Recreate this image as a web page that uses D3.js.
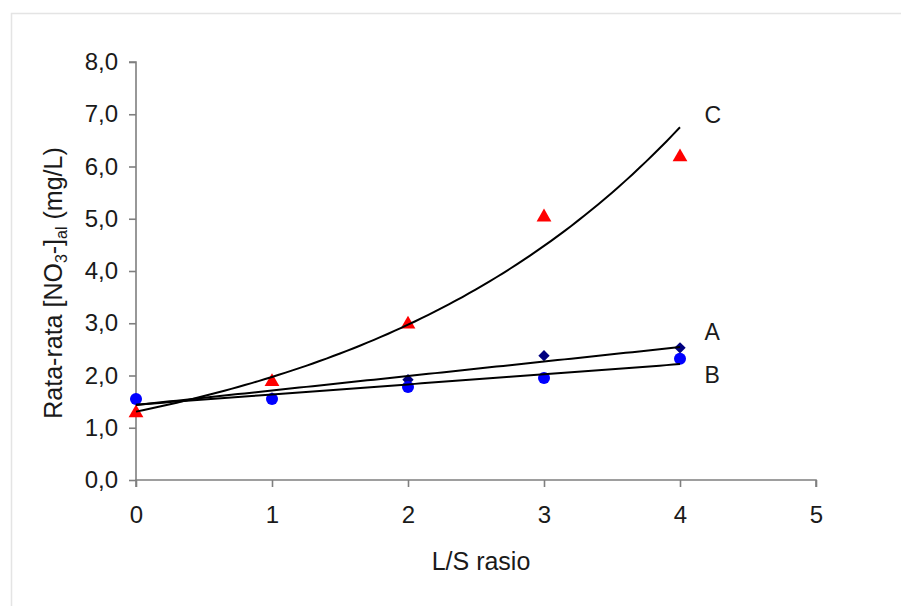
<!DOCTYPE html>
<html>
<head>
<meta charset="utf-8">
<script src="https://cdn.jsdelivr.net/npm/d3@7"></script>
<style>
  body { margin: 0; background: #fff; }
  text { font-family: "Liberation Sans", Arial, sans-serif; fill: #1a1a1a; }
</style>
</head>
<body>
<div id="chart"></div>
<script>
// data
const lsRatio = [0, 1, 2, 3, 4];
const seriesA = [1.55, 1.57, 1.92, 2.38, 2.53];
const seriesB = [1.55, 1.55, 1.78, 1.95, 2.32];
const seriesC = [1.30, 1.90, 3.00, 5.05, 6.20];
const xTicks = [0, 1, 2, 3, 4, 5];
const yTicks = [0, 1, 2, 3, 4, 5, 6, 7, 8];
// series label anchors (data units)
const labelNames = ['A', 'B', 'C'];
const labelX = [4.18, 4.18, 4.18];
const labelY = [2.83, 2.01, 6.99];

const width = 901;
const height = 606;

const svg = d3.select('#chart')
  .append('svg')
  .attr('width', width)
  .attr('height', height);

// light frame of the original figure
svg.append('rect')
  .attr('x', 11.5)
  .attr('y', 13.5)
  .attr('width', 1000)
  .attr('height', 1000)
  .attr('fill', 'none')
  .attr('stroke', '#e4e4e4')
  .attr('stroke-width', 1.5);

const xScale = d3.scaleLinear().domain([0, 5]).range([136, 816]);
const yScale = d3.scaleLinear().domain([0, 8]).range([480, 62]);

const locale = d3.formatLocale({ decimal: ',', thousands: '.', grouping: [3], currency: ['', ''] });
const fmt = locale.format('.1f');

const axisColor = '#7f7f7f';

const xAxis = svg.append('g')
  .attr('transform', `translate(0, ${yScale(0)})`)
  .call(d3.axisBottom(xScale).tickValues(xTicks).tickSize(7).tickPadding(19).tickFormat(d3.format('d')));

const yAxis = svg.append('g')
  .attr('transform', `translate(${xScale(0)}, 0)`)
  .call(d3.axisLeft(yScale).tickValues(yTicks).tickSize(7).tickPadding(11).tickFormat(fmt));

[xAxis, yAxis].forEach((ax) => {
  ax.select('.domain').attr('stroke', axisColor).attr('stroke-width', 1.6);
  ax.selectAll('.tick line').attr('stroke', axisColor).attr('stroke-width', 1.6);
  ax.selectAll('.tick text')
    .attr('font-size', 24)
    .attr('font-family', '"Liberation Sans", Arial, sans-serif')
    .attr('fill', '#1a1a1a');
});
xAxis.select('.domain').attr('d', `M${xScale(0)},7V0H${xScale(5)}V7`);
yAxis.select('.domain').attr('d', `M-7,${yScale(8)}H0V${yScale(0)}`);

// axis titles
svg.append('text')
  .attr('x', 481)
  .attr('y', 570)
  .attr('text-anchor', 'middle')
  .attr('font-size', 25)
  .text('L/S rasio');

const yTitle = svg.append('text')
  .attr('transform', 'translate(62, 283) rotate(-90)')
  .attr('text-anchor', 'middle')
  .attr('font-size', 25);
yTitle.append('tspan').text('Rata-rata [NO');
yTitle.append('tspan').attr('font-size', 16).attr('dy', 5).text('3');
yTitle.append('tspan').attr('dy', -5).text('-]');
yTitle.append('tspan').attr('font-size', 16).attr('dy', 5).text('al');
yTitle.append('tspan').attr('dy', -5).text(' (mg/L)');

// least squares trend lines
function linFit(xs, ys) {
  const mx = d3.mean(xs), my = d3.mean(ys);
  const b = d3.sum(xs, (x, i) => (x - mx) * (ys[i] - my)) / d3.sum(xs, (x) => (x - mx) * (x - mx));
  return { a: my - b * mx, b: b };
}
const fitA = linFit(lsRatio, seriesA);
const fitB = linFit(lsRatio, seriesB);
const fitLogC = linFit(lsRatio, seriesC.map(Math.log));

const xs = d3.range(0, 4.0001, 0.05);
const line = d3.line().x((d) => xScale(d[0])).y((d) => yScale(d[1])).curve(d3.curveLinear);

// markers
const pts = (ys) => lsRatio.map((x, i) => [x, ys[i]]);

svg.append('g').selectAll('path')
  .data(pts(seriesC)).enter().append('path')
  .attr('d', d3.symbol(d3.symbolTriangle, 95))
  .attr('transform', (d) => `translate(${xScale(d[0])}, ${yScale(d[1]) + 1})`)
  .attr('fill', '#ff0000');

svg.append('g').selectAll('path')
  .data(pts(seriesA)).enter().append('path')
  .attr('d', d3.symbol(d3.symbolSquare, 64))
  .attr('transform', (d) => `translate(${xScale(d[0])}, ${yScale(d[1])}) rotate(45)`)
  .attr('fill', '#000080');

svg.append('g').selectAll('circle')
  .data(pts(seriesB)).enter().append('circle')
  .attr('cx', (d) => xScale(d[0]))
  .attr('cy', (d) => yScale(d[1]))
  .attr('r', 6)
  .attr('fill', '#0000ff');

// trend lines on top
const trends = [
  xs.map((x) => [x, fitA.a + fitA.b * x]),
  xs.map((x) => [x, fitB.a + fitB.b * x]),
  xs.map((x) => [x, Math.exp(fitLogC.a + fitLogC.b * x)])
];
svg.append('g').selectAll('path')
  .data(trends).enter().append('path')
  .attr('d', line)
  .attr('fill', 'none')
  .attr('stroke', '#000')
  .attr('stroke-width', 2);

// series labels
svg.append('g').selectAll('text')
  .data(labelNames).enter().append('text')
  .attr('x', (d, i) => xScale(labelX[i]))
  .attr('y', (d, i) => yScale(labelY[i]))
  .attr('dy', '0.36em')
  .attr('font-size', 23)
  .text((d) => d);
</script>
</body>
</html>
